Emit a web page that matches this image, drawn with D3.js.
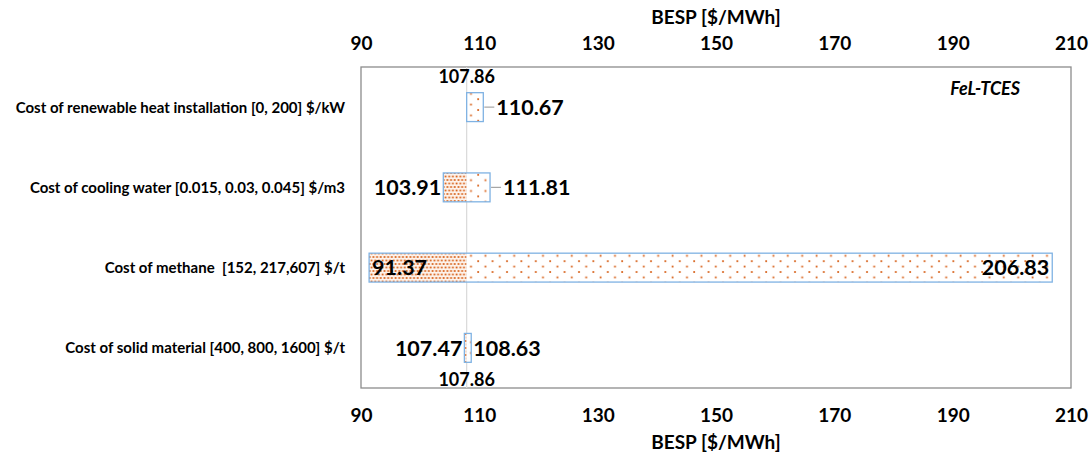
<!DOCTYPE html>
<html>
<head>
<meta charset="utf-8">
<script src="https://cdn.jsdelivr.net/npm/d3@7"></script>
<style>
  body { margin: 0; background: #fff; }
  svg { display: block; font-family: Lato, "Open Sans", sans-serif; }
</style>
</head>
<body>
<svg width="1091" height="458"></svg>
<script>
const categories = [
    'Cost of renewable heat installation [0, 200] $/kW',
    'Cost of cooling water [0.015, 0.03, 0.045] $/m3',
    'Cost of methane  [152, 217,607] $/t',
    'Cost of solid material [400, 800, 1600] $/t',
];
const lowValues = [107.86, 103.91, 91.37, 107.47];
const highValues = [110.67, 111.81, 206.83, 108.63];
const baseValue = 107.86;
const tickValues = [90, 110, 130, 150, 170, 190, 210];
// where each value label sits: 'lead' outside with leader line, 'in' inside the bar, 'near' just outside
const labelMode = ['lead', 'lead', 'in', 'near'];
const showLow = [false, true, true, true];

const svg = d3.select('svg');
svg.selectAll('*').remove();

const plot = {left: 361, right: 1071, top: 67, bottom: 388};

const xScale = d3.scaleLinear()
    .domain([90, 210])
    .range([plot.left, plot.right]);

const yScale = d3.scaleBand()
    .domain(categories)
    .range([plot.top, plot.bottom])
    .paddingInner(0.64)
    .paddingOuter(0.32);

// patterns
const defs = svg.append('defs');
const dense = defs.append('pattern')
    .attr('id', 'dense')
    .attr('patternUnits', 'userSpaceOnUse')
    .attr('width', 7.4).attr('height', 7);
dense.append('rect').attr('width', 7.4).attr('height', 7).attr('fill', '#fdf3ec');
[[1.5, 1.5], [5.2, 1.5], [3.35, 5], [-0.35, 5], [7.05, 5]].forEach(([cx, cy]) => {
    dense.append('rect').attr('x', cx - 0.9).attr('y', cy - 0.9)
        .attr('width', 1.8).attr('height', 1.8).attr('fill', '#d9651f');
});
const sparse = defs.append('pattern')
    .attr('id', 'sparse')
    .attr('patternUnits', 'userSpaceOnUse')
    .attr('width', 14.4).attr('height', 10.8);
sparse.append('rect').attr('width', 14.4).attr('height', 10.8).attr('fill', '#fff');
[[3, 2], [10.2, 7.4]].forEach(([cx, cy]) => {
    sparse.append('rect').attr('x', cx - 0.9).attr('y', cy - 0.9)
        .attr('width', 1.8).attr('height', 1.8).attr('fill', '#d9651f');
});

// plot frame
svg.append('rect')
    .attr('x', plot.left).attr('y', plot.top)
    .attr('width', plot.right - plot.left).attr('height', plot.bottom - plot.top)
    .attr('fill', 'none').attr('stroke', '#8c8c8c').attr('stroke-width', 1.3);

// base line
svg.append('line')
    .attr('x1', xScale(baseValue)).attr('x2', xScale(baseValue))
    .attr('y1', plot.top).attr('y2', plot.bottom)
    .attr('stroke', '#d9d9d9').attr('stroke-width', 1.2);

const rows = categories.map((c, i) => ({cat: c, low: lowValues[i], high: highValues[i], mode: labelMode[i], showLow: showLow[i]}));

const bars = svg.append('g').selectAll('g').data(rows).join('g');

bars.append('rect')
    .attr('x', d => xScale(d.low))
    .attr('y', d => yScale(d.cat))
    .attr('width', d => xScale(baseValue) - xScale(d.low))
    .attr('height', yScale.bandwidth())
    .attr('fill', 'url(#dense)');

bars.append('rect')
    .attr('x', xScale(baseValue))
    .attr('y', d => yScale(d.cat))
    .attr('width', d => xScale(d.high) - xScale(baseValue))
    .attr('height', yScale.bandwidth())
    .attr('fill', 'url(#sparse)');

bars.append('rect')
    .attr('x', d => xScale(d.low))
    .attr('y', d => yScale(d.cat))
    .attr('width', d => xScale(d.high) - xScale(d.low))
    .attr('height', yScale.bandwidth())
    .attr('fill', 'none')
    .attr('stroke', '#7fb2e3')
    .attr('stroke-width', 1.3);

const cy = d => yScale(d.cat) + yScale.bandwidth() / 2;

// leader lines
bars.filter(d => d.mode === 'lead').append('line')
    .attr('x1', d => xScale(d.high) + 1)
    .attr('x2', d => xScale(d.high) + 11)
    .attr('y1', cy).attr('y2', cy)
    .attr('stroke', '#a6a6a6').attr('stroke-width', 1.2);

bars.append('text')
    .attr('x', d => d.mode === 'in' ? xScale(d.high) - 3 : xScale(d.high) + (d.mode === 'lead' ? 13 : 2))
    .attr('y', cy)
    .attr('dy', '0.36em')
    .attr('text-anchor', d => d.mode === 'in' ? 'end' : 'start')
    .attr('font-size', 21.5).attr('font-weight', 'bold')
    .text(d => d.high.toFixed(2));

bars.filter(d => d.showLow).append('text')
    .attr('x', d => d.mode === 'in' ? xScale(d.low) + 3 : xScale(d.low) - 2)
    .attr('y', cy)
    .attr('dy', '0.36em')
    .attr('text-anchor', d => d.mode === 'in' ? 'start' : 'end')
    .attr('font-size', 21.5).attr('font-weight', 'bold')
    .text(d => d.low.toFixed(2));

// base value labels
[plot.top + 10, plot.bottom - 8].forEach(y => {
    svg.append('text')
        .attr('x', xScale(baseValue)).attr('y', y)
        .attr('dy', '0.36em')
        .attr('text-anchor', 'middle')
        .attr('font-size', 18).attr('font-weight', 'bold')
        .text(baseValue.toFixed(2));
});

// category labels
svg.append('g').selectAll('text').data(categories).join('text')
    .attr('x', 345)
    .attr('y', d => yScale(d) + yScale.bandwidth() / 2)
    .attr('dy', '0.36em')
    .attr('text-anchor', 'end')
    .attr('font-size', 15).attr('font-weight', 'bold')
    .style('white-space', 'pre')
    .text(d => d);

// axes
const xAxisTop = d3.axisTop(xScale).tickValues(tickValues).tickSize(0).tickPadding(0);
const xAxisBottom = d3.axisBottom(xScale).tickValues(tickValues).tickSize(0).tickPadding(0);

const gTop = svg.append('g')
    .attr('transform', 'translate(0, 50)')
    .call(xAxisTop);
const gBottom = svg.append('g')
    .attr('transform', 'translate(0, 408)')
    .call(xAxisBottom);
[gTop, gBottom].forEach(g => {
    g.select('.domain').remove();
    g.selectAll('text')
        .attr('font-family', 'Lato, sans-serif')
        .attr('font-size', 19).attr('font-weight', 'bold').attr('fill', '#000');
});

const midX = (plot.left + plot.right) / 2;
svg.append('text')
    .attr('x', midX).attr('y', 17).attr('dy', '0.36em')
    .attr('text-anchor', 'middle')
    .attr('font-size', 19).attr('font-weight', 'bold')
    .text('BESP [$/MWh]');
svg.append('text')
    .attr('x', midX).attr('y', 442).attr('dy', '0.36em')
    .attr('text-anchor', 'middle')
    .attr('font-size', 19).attr('font-weight', 'bold')
    .text('BESP [$/MWh]');

svg.append('text')
    .attr('x', 1020).attr('y', 89).attr('dy', '0.36em')
    .attr('text-anchor', 'end')
    .attr('font-size', 18).attr('font-weight', 'bold').attr('font-style', 'italic')
    .text('FeL-TCES');
</script>
</body>
</html>
